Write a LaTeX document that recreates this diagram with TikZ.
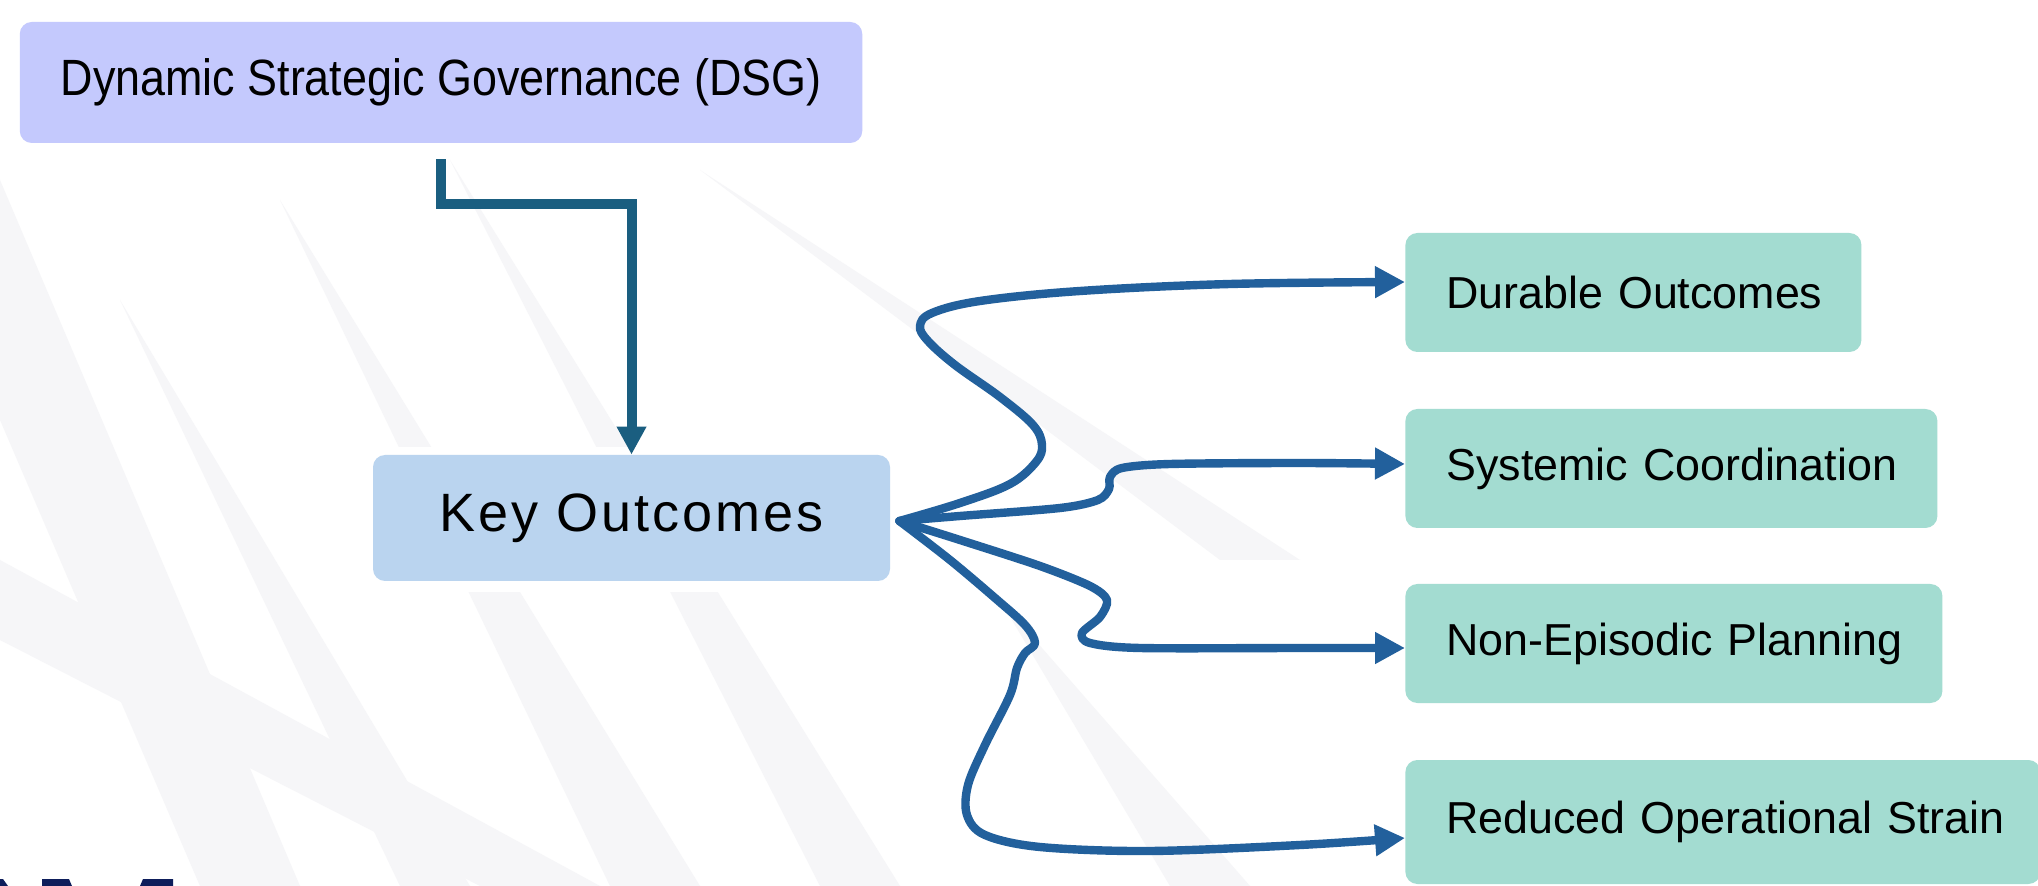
\documentclass[tikz,border=0pt]{standalone}
\usepackage{fontspec}
\usepackage{graphicx}
\setmainfont{Liberation Sans}
\newfontfamily\kofont[LetterSpace=5.5]{Liberation Sans}
\usetikzlibrary{arrows.meta}
\definecolor{dsgfill}{HTML}{C4C9FD}
\definecolor{kofill}{HTML}{BAD4EF}
\definecolor{outfill}{HTML}{A3DCD1}
\definecolor{elbowcol}{HTML}{1A5E80}
\definecolor{curvecol}{HTML}{22609C}
\definecolor{navy}{HTML}{0E1E5B}
\definecolor{facet}{HTML}{F6F6F8}
\tikzset{
  box/.style={rectangle, rounded corners=6pt, inner sep=0pt, draw=none},
  outbox/.style={box, fill=outfill, anchor=west, minimum height=59.5pt, inner xsep=20.5pt, align=left, font=\fontsize{22.4}{26}\selectfont},
  elbow/.style={draw=elbowcol, line width=5pt, -{Triangle[length=14pt,width=14pt]}},
  curvy/.style={draw=curvecol, line width=4.2pt, line join=round, line cap=round, -{Triangle[length=15pt,width=15pt]}},
  facetfill/.style={fill=facet},
}
\begin{document}
\begin{tikzpicture}[x=0.5pt,y=-0.5pt]
\useasboundingbox (0,0) rectangle (2038,886);
\fill[white] (0,0) rectangle (2038,886);
% faint background facets
\fill[facetfill] (0,180) -- (300,886) -- (200,886) -- (0,420) -- cycle;
\fill[facetfill] (120,300) -- (470,886) -- (400,886) -- cycle;
\fill[facetfill] (280,200) -- (700,886) -- (610,886) -- cycle;
\fill[facetfill] (450,160) -- (900,886) -- (820,886) -- cycle;
\fill[facetfill] (0,560) -- (600,886) -- (480,886) -- (0,640) -- cycle;
\fill[facetfill] (700,170) -- (1300,560) -- (1220,560) -- cycle;
\fill[facetfill] (1000,600) -- (1250,886) -- (1170,886) -- cycle;
% white panels behind the top and middle boxes
\fill[white] (0,0) rectangle (880,157);
\fill[white] (363,447) rectangle (900,592);
% partial large letters at the bottom left
\fill[navy] (0,879) -- (3,879) -- (8,886) -- (0,886) -- cycle;
\fill[navy] (42,879) -- (69,879) -- (72,886) -- (42,886) -- cycle;
\fill[navy] (143,879) -- (173,879) -- (173,886) -- (140,886) -- cycle;
% nodes
\node[box, fill=dsgfill, minimum width=421.25pt, minimum height=60.5pt] (dsg) at (441,82.5)
  {\fontsize{25.5}{30}\selectfont\scalebox{0.88}[1]{Dynamic Strategic Governance (DSG)}};
\node[box, fill=kofill, minimum width=258.5pt, minimum height=63pt] (ko) at (631.5,518)
  {\kofont\fontsize{27}{32}\selectfont Key Outcomes};
\node[outbox, text width=187pt] (dur) at (1405,292.5) {\mbox{Durable Outcomes}};
\node[outbox, text width=225pt] (sys) at (1405,468.5) {\mbox{Systemic Coordination}};
\node[outbox, text width=227.5pt] (nep) at (1405,643.5) {\mbox{Non-Episodic Planning}};
\node[outbox, text width=276.5pt, minimum height=62pt] (red) at (1405,822) {\mbox{Reduced Operational Strain}};
\coordinate (O) at ([xshift=4.5pt,yshift=-1.5pt]ko.east);
% connectors
\draw[elbow] ([yshift=-8pt]dsg.south) -- ++(0,45) -| (ko.north);
\draw[curvy] plot[smooth, tension=0.6] coordinates {(O) (960,503) (1010,484) (1036,462) (1042,445) (1033,425) (1000,397) (955,365) (928,341) (920,326) (932,313) (980,301) (1080,291) (1230,284) ([yshift=5.25pt]dur.west)};
\draw[curvy] plot[smooth, tension=0.5] coordinates {(O) (960,516) (1060,508) (1098,500) (1109,489) (1110,477) (1122,468) (1170,464) (1300,463) ([yshift=2.25pt]sys.west)};
\draw[curvy] plot[smooth, tension=0.5] coordinates {(O) (960,540) (1040,566) (1090,586) (1107,600) (1100,617) (1082,633) (1090,643) (1140,648) (1300,648) ([yshift=-2.25pt]nep.west)};
\draw[curvy] plot[smooth, tension=0.55] coordinates {(O) (950,560) (995,598) (1025,625) (1035,643) (1025,653) (1017,668) (1010,695) (985,745) (968,785) (967,815) (985,835) (1040,847) (1150,851) (1300,845) ([yshift=-8pt]red.west)};
\end{tikzpicture}
\end{document}
